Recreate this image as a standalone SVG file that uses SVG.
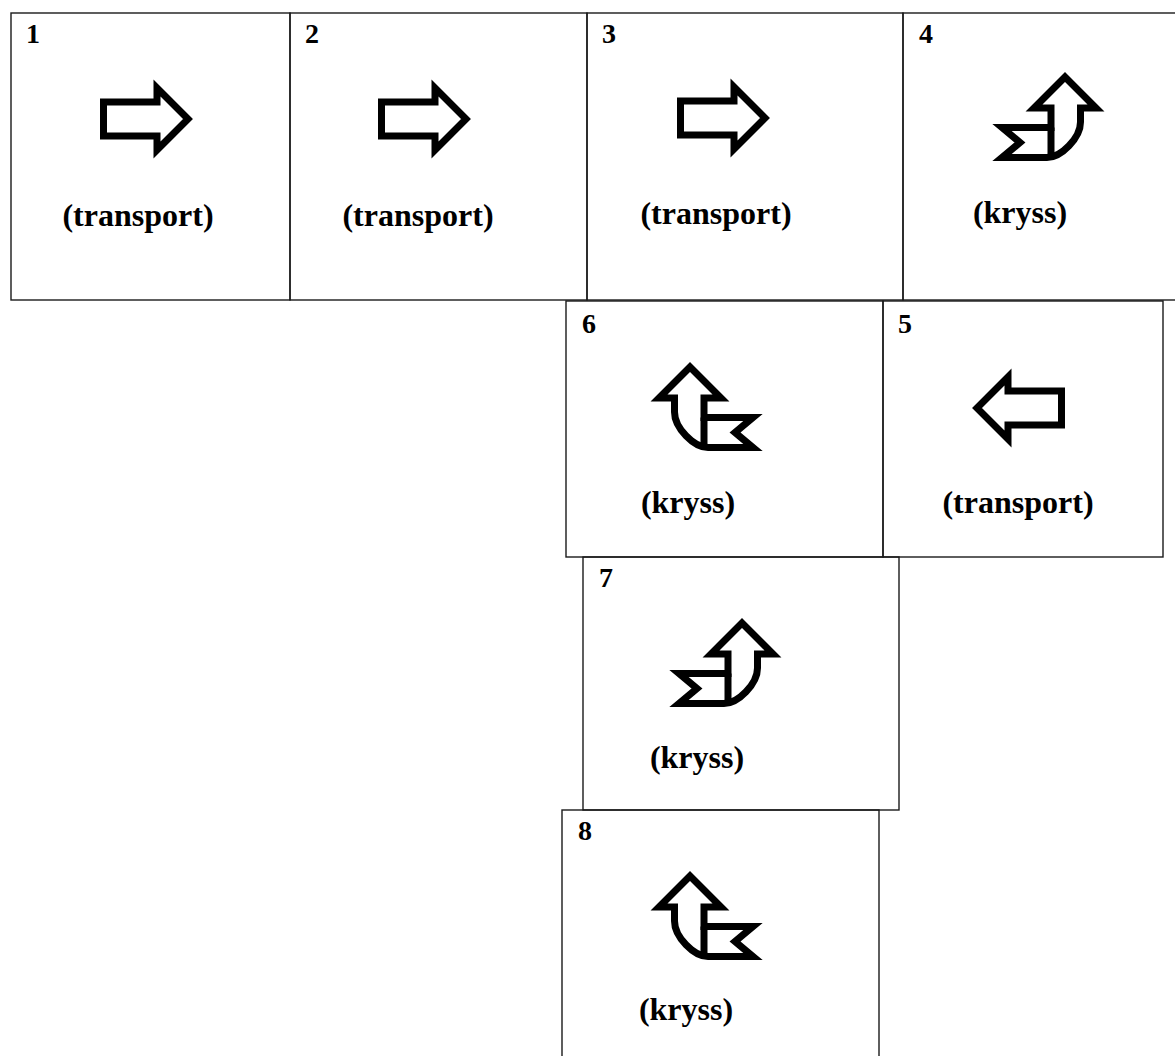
<svg xmlns="http://www.w3.org/2000/svg" xmlns:xlink="http://www.w3.org/1999/xlink" width="1175" height="1056" viewBox="0 0 1175 1056">
<style>
.box{fill:none;stroke:#1a1a1a;stroke-width:1.4}
.arr{fill:#fff;stroke:#000;stroke-width:7;stroke-linejoin:miter;stroke-miterlimit:6}
.num{font-family:"Liberation Serif","Times New Roman",serif;font-weight:bold;font-size:28px;fill:#000}
.lbl{font-family:"Liberation Serif","Times New Roman",serif;font-weight:bold;font-size:32px;fill:#000;text-anchor:middle}
</style>
<defs>
<path id="tr" d="M3.5,-17 H57 V-31 L88,0 L57,31 V17 H3.5 Z"/>
<g id="kr">
<path d="M0,3 L31,34 H15.5 V48 C15.5,64 -4,83.5 -18,83.5 H-63 L-45,68.5 L-63,53.5 H-14 V34 H-31 Z"/>
<path d="M-14,53.5 V83.5" fill="none"/>
</g>
</defs>
<rect width="1175" height="1056" fill="#fff"/>
<g id="connectors"></g>
<g id="node1">
<rect class="box" x="11" y="13" width="279" height="287"/>
<text class="num" x="26" y="43">1</text>
<use href="#tr" class="arr" transform="translate(100,119)"/>
<text class="lbl" x="138" y="226">(transport)</text>
</g>
<g id="node2">
<rect class="box" x="290" y="13" width="297" height="287"/>
<text class="num" x="305" y="43">2</text>
<use href="#tr" class="arr" transform="translate(378,119)"/>
<text class="lbl" x="418" y="226">(transport)</text>
</g>
<g id="node3">
<rect class="box" x="587" y="13" width="316" height="287"/>
<text class="num" x="602" y="43">3</text>
<use href="#tr" class="arr" transform="translate(677,118)"/>
<text class="lbl" x="716" y="224">(transport)</text>
</g>
<g id="node4">
<rect class="box" x="903" y="13" width="290" height="287"/>
<text class="num" x="919" y="43">4</text>
<use href="#kr" class="arr" transform="translate(1065,74)"/>
<text class="lbl" x="1020" y="223">(kryss)</text>
</g>
<g id="node5">
<rect class="box" x="883" y="301" width="280" height="256"/>
<text class="num" x="898" y="333">5</text>
<use href="#tr" class="arr" transform="translate(1065,408) scale(-1,1)"/>
<text class="lbl" x="1018" y="513">(transport)</text>
</g>
<g id="node6">
<rect class="box" x="566" y="301" width="317" height="256"/>
<text class="num" x="582" y="333">6</text>
<use href="#kr" class="arr" transform="translate(690,364) scale(-1,1)"/>
<text class="lbl" x="688" y="513">(kryss)</text>
</g>
<g id="node7">
<rect class="box" x="583" y="557" width="316" height="253"/>
<text class="num" x="599" y="587">7</text>
<use href="#kr" class="arr" transform="translate(742,620)"/>
<text class="lbl" x="697" y="768">(kryss)</text>
</g>
<g id="node8">
<rect class="box" x="562" y="810" width="317" height="260"/>
<text class="num" x="578" y="840">8</text>
<use href="#kr" class="arr" transform="translate(690,873) scale(-1,1)"/>
<text class="lbl" x="686" y="1020">(kryss)</text>
</g>
</svg>
